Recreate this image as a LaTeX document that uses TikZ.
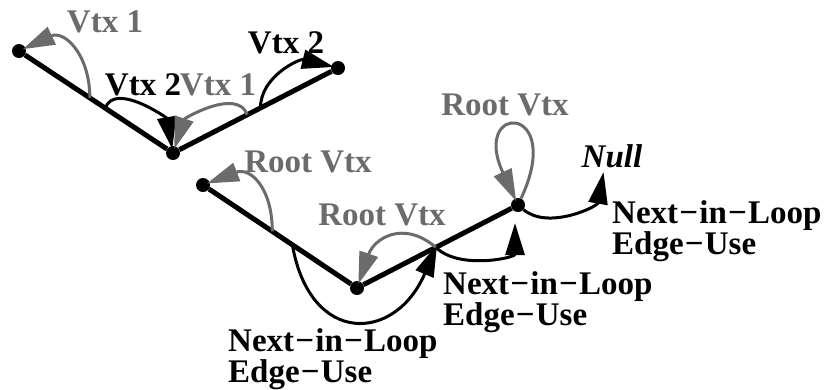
\documentclass[tikz,border=0pt]{standalone}
\usepackage{fontspec}
\setmainfont{Liberation Serif}
\usepackage{xcolor}
\usetikzlibrary{calc, arrows.meta}

\definecolor{vtxgray}{RGB}{107,107,107}
\newcommand{\ndash}{\kern1.2pt−\kern1.2pt}

\begin{document}
\begin{tikzpicture}[x = 1pt, y = 1pt,
		vertex/.style = {circle, fill, inner sep = 0pt, minimum size = 14pt},
		edgeline/.style = {line width = 5pt},
		nextuse/.style = {line width = 3pt, -{Triangle[length = 32pt, width = 19pt]}, shorten >= -3pt},
		vtxuse/.style = {nextuse, vtxgray},
		lbl/.style = {font = \fontsize{33}{29.5}\selectfont\bfseries, inner sep = 0pt, anchor = base},
		graylbl/.style = {lbl, text = vtxgray}]
							\useasboundingbox (0,0) rectangle (826,-389);

							\foreach \name/\x/\y in {a/19/51, b/173/153, c/338/68, d/203/185, e/357/288, f/518/205}
							{
								\node [vertex] (\name) at (\x,-\y) {};
							}

							\draw [edgeline] (a) -- (b) -- (c);
							\draw [edgeline] (d) -- (e) -- (f);

							\coordinate (ab1) at ($(a)!0.46!(b)$);
							\coordinate (ab2) at ($(a)!0.56!(b)$);
							\coordinate (bc1) at ($(b)!0.45!(c)$);
							\coordinate (bc2) at ($(b)!0.53!(c)$);
							\coordinate (de1) at ($(d)!0.45!(e)$);
							\coordinate (de2) at ($(d)!0.58!(e)$);
							\coordinate (ef) at ($(e)!0.49!(f)$);
							\coordinate (fbelow) at (515,-226);
							\coordinate (nullend) at (603,-175);

							\draw [vtxuse] (ab1) to [out = 90, in = 25, looseness = 1.35] (a);
							\draw [nextuse] (ab2) to [out = 70, in = 100, looseness = 0.95] (b);
							\draw [vtxuse] (bc1) to [out = 110, in = 72, looseness = 0.95] (b);
							\draw [nextuse] (bc2) to [out = 90, in = 166, looseness = 1] (c);

							\draw [vtxuse] (de1) to [out = 90, in = 21, looseness = 1.4] (d);
							\draw [nextuse] (de2) to [out = -80, in = -113, looseness = 1.84] (ef);
							\draw [vtxuse] (ef) to [out = 140, in = 71, looseness = 1.35] (e);
							\draw [nextuse] (ef) to [out = -45, in = -90, looseness = 1] (fbelow);
							\draw [vtxuse] (f) to [out = 65, in = 115, distance = 106pt] (f);
							\draw [nextuse] (f) to [out = -40, in = -100, looseness = 0.95] (nullend);

							\node [graylbl] (vtxa) at (105,-32) {Vtx 1};
							\node [lbl] (vtxb) at (143,-95) {Vtx 2};
							\node [graylbl] (vtxc) at (218,-95) {Vtx 1};
							\node [lbl] (vtxd) at (286,-53) {Vtx 2};
							\node [graylbl] (rootd) at (308,-172) {Root Vtx};
							\node [graylbl] (roote) at (382,-225) {Root Vtx};
							\node [graylbl] (rootf) at (505,-115) {Root Vtx};
							\node [lbl, font = \fontsize{33}{29.5}\selectfont\bfseries\itshape] (null) at (612,-167) {Null};

							\foreach \name/\x/\y in {nextf/612/254, nexte/443/325, nextd/228/382}
							{
								\node [lbl, anchor = base west, align = left] (\name) at (\x,-\y) {Next\ndash in\ndash Loop\\Edge\ndash Use};
							}
						\end{tikzpicture}
\end{document}
